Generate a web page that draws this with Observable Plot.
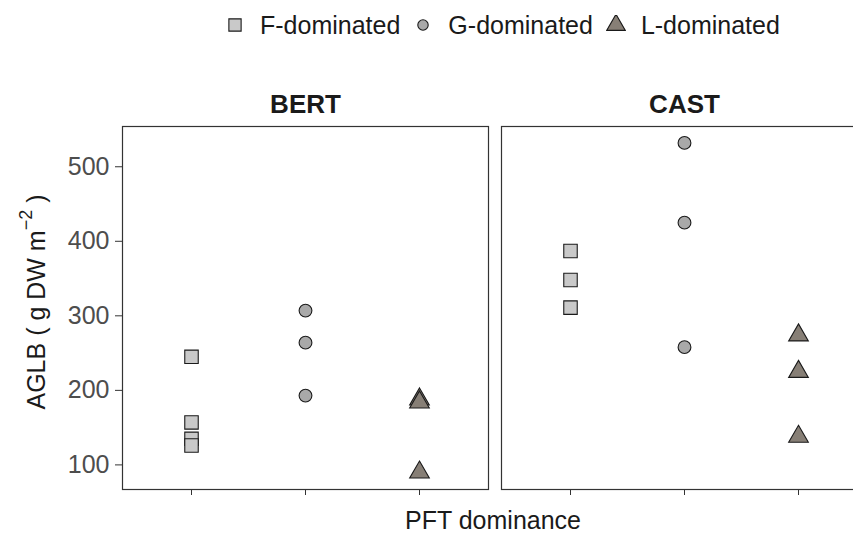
<!DOCTYPE html>
<html>
<head>
<meta charset="utf-8">
<script src="https://cdn.jsdelivr.net/npm/d3@7"></script>
<script src="https://cdn.jsdelivr.net/npm/@observablehq/plot@0.6"></script>
<style>
  html, body { margin: 0; padding: 0; overflow: hidden; background: #fff; }
  body { width: 853px; height: 533px; font-family: "Liberation Sans", Arial, sans-serif; }
  #legend { height: 50px; display: flex; align-items: center; padding-left: 225px; box-sizing: border-box; font-size: 25px; color: #1a1a1a; white-space: nowrap; }
  .item { display: flex; align-items: center; margin-right: 13px; }
  .item svg { display: block; margin-right: 15px; }
  #chart svg { display: block; max-width: none !important; height: 483px !important; }
</style>
</head>
<body>
<div id="legend"></div>
<div id="chart"></div>
<script>
// Sites (facets) and plant-functional-type dominance classes
const sites = ["BERT", "CAST"];
const categories = ["F-dominated", "G-dominated", "L-dominated"];
const shapes = ["square", "circle", "triangle"];
const fills = ["#c9c9c9", "#a9a9a9", "#877f76"];
const yTicks = [100, 200, 300, 400, 500];

// Aboveground live biomass (g DW m^-2) per plot
const bertF = [245, 157, 135, 126];
const bertG = [307, 264, 193];
const bertL = [188, 184, 90];
const castF = [387, 348, 311];
const castG = [532, 425, 258];
const castL = [274, 225, 138];

const series = {
  BERT: [bertF, bertG, bertL],
  CAST: [castF, castG, castL]
};
const rows = [];
for (const site of sites) {
  series[site].forEach((vals, i) => {
    for (const v of vals) rows.push({site, category: categories[i], aglb: v});
  });
}

// symbol radius per class (squares and triangles read a little larger)
const radii = {"F-dominated": 7.6, "G-dominated": 6.4, "L-dominated": 7.3};

const chart = Plot.plot({
  width: 870,
  height: 483,
  marginLeft: 122,
  marginRight: 2,
  marginTop: 76,
  marginBottom: 44,
  style: {fontFamily: "'Liberation Sans', Arial, sans-serif", fontSize: "25px", color: "#333", background: "none", overflow: "visible", maxWidth: "none"},
  fx: {domain: sites, paddingInner: 0.034, paddingOuter: 0, axis: null, label: null},
  x: {domain: categories, type: "point", padding: 0.6, tickSize: 6, tickFormat: () => "", label: null},
  y: {domain: [67, 554], ticks: yTicks, tickSize: 7, tickPadding: 6, label: null},
  symbol: {domain: categories, range: shapes},
  color: {domain: categories, range: fills},
  marks: [
    Plot.frame({stroke: "#333", strokeWidth: 1.2}),
    ...categories.map(c => Plot.dot(rows.filter(d => d.category === c), {
      fx: "site", x: "category", y: "aglb",
      symbol: "category", fill: "category",
      stroke: "#1a1a1a", strokeWidth: 1.1, r: radii[c]
    })),
    Plot.text(sites, {
      fx: d => d, text: d => d, frameAnchor: "top", lineAnchor: "bottom", dy: -14,
      fontWeight: "bold", fontSize: 26, fill: "#1a1a1a"
    })
  ]
});
document.getElementById("chart").appendChild(chart);

const svg = d3.select(chart);
svg.selectAll('g[aria-label^="y-axis"] text').attr("fill", "#4d4d4d");

// y-axis title with superscript unit
const ytitle = svg.append("text")
  .attr("transform", "translate(45,252) rotate(-90)")
  .attr("text-anchor", "middle")
  .attr("font-size", 25)
  .attr("fill", "#1a1a1a");
ytitle.append("tspan").text("AGLB ( g DW m");
ytitle.append("tspan").attr("dy", -13).attr("font-size", 18).text("\u22122");
ytitle.append("tspan").attr("dy", 13).text(" )");

// x-axis title
svg.append("text")
  .attr("x", 493).attr("y", 479)
  .attr("text-anchor", "middle")
  .attr("font-size", 25)
  .attr("fill", "#1a1a1a")
  .text("PFT dominance");

// legend
const symbolTypes = [d3.symbolSquare, d3.symbolCircle, d3.symbolTriangle];
const legendSizes = [150, 85, 150];
const legend = d3.select("#legend");
categories.forEach((c, i) => {
  const item = legend.append("div").attr("class", "item");
  const s = item.append("svg").attr("width", 20).attr("height", 20);
  s.append("path")
    .attr("transform", "translate(10,10)")
    .attr("d", d3.symbol(symbolTypes[i], legendSizes[i])())
    .attr("fill", fills[i])
    .attr("stroke", "#1a1a1a")
    .attr("stroke-width", 1.1);
  item.append("span").text(c);
});
</script>
</body>
</html>
